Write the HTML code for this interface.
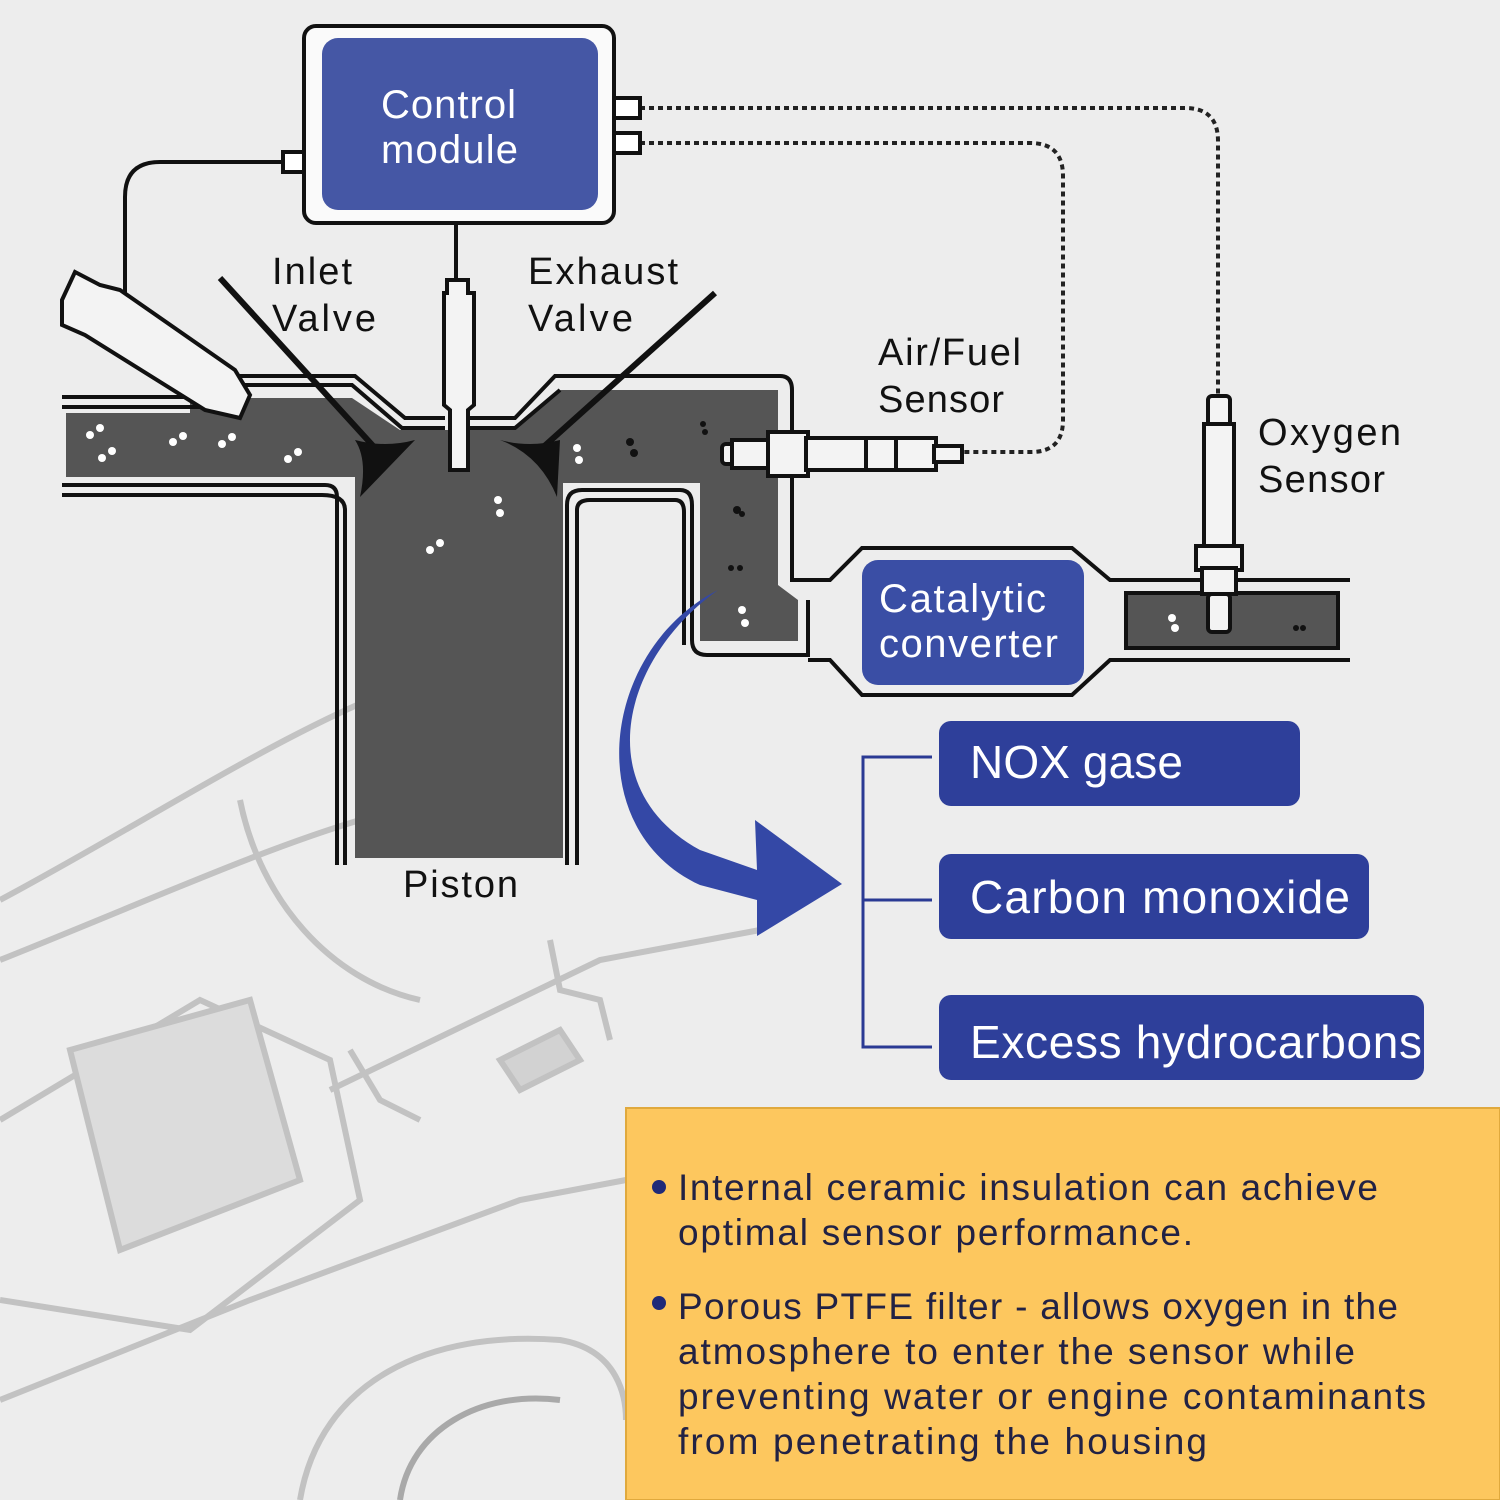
<!DOCTYPE html>
<html><head><meta charset="utf-8"><style>
html,body{margin:0;padding:0;background:#ededed;}
svg{display:block;}
text{font-family:"Liberation Sans","DejaVu Sans",sans-serif;}
</style></head><body>
<svg width="1500" height="1500" viewBox="0 0 1500 1500" xmlns="http://www.w3.org/2000/svg">
<rect width="1500" height="1500" fill="#ededed"/>
<!-- faded car sketch -->
<g fill="none" stroke="#b8b8b8" stroke-width="6" opacity="0.8">
<path d="M0 900 C150 820 300 720 420 680"/>
<path d="M0 960 C150 900 260 850 360 820"/>
<path d="M240 800 C260 900 330 980 420 1000"/>
<path d="M0 1120 L200 1000 L330 1060 L360 1200 L190 1330 L0 1300"/>
<path d="M70 1050 L250 1000 L300 1180 L120 1250 Z" fill="#d8d8d8"/>
<path d="M0 1400 L250 1300 L520 1200 L626 1180"/>
<path d="M300 1500 C320 1380 430 1330 560 1340 C620 1350 626 1400 626 1420"/>
<path d="M400 1500 C410 1430 480 1390 560 1400" stroke="#999"/>
<path d="M330 1090 L600 960 L760 930"/>
<path d="M500 1060 L560 1030 L580 1060 L520 1090 Z" fill="#ccc"/>
<path d="M550 940 L560 990 L600 1000 L610 1040"/>
<path d="M350 1050 L380 1100 L420 1120"/>
</g>
<!-- wires -->
<path d="M283 162 L160 162 Q125 162 125 197 L125 295" fill="none" stroke="#111" stroke-width="4"/>
<line x1="456" y1="223" x2="456" y2="280" stroke="#111" stroke-width="4"/>
<path d="M640 108 L1185 108 Q1218 108 1218 141 L1218 395" fill="none" stroke="#222" stroke-width="4" stroke-dasharray="5 4"/>
<path d="M640 143 L1030 143 Q1063 143 1063 176 L1063 420 Q1063 452 1031 452 L962 452" fill="none" stroke="#222" stroke-width="4" stroke-dasharray="5 4"/>
<!-- control module -->
<rect x="283" y="152" width="22" height="20" fill="#fff" stroke="#111" stroke-width="4"/>
<rect x="612" y="98" width="28" height="20" fill="#fff" stroke="#111" stroke-width="4"/>
<rect x="612" y="133" width="28" height="20" fill="#fff" stroke="#111" stroke-width="4"/>
<rect x="304" y="26" width="310" height="197" rx="12" fill="#fafafa" stroke="#111" stroke-width="4"/>
<rect x="322" y="38" width="276" height="172" rx="16" fill="#4557a5"/>
<text x="381" y="118" fill="#fff" font-size="40" textLength="135">Control</text>
<text x="381" y="163" fill="#fff" font-size="40" textLength="137">module</text>
<!-- engine dark fill -->
<path d="M66 413 L190 413 L190 398 L352 398 L400 430 L515 430 L560 390 L778 390 L778 585 L798 600 L798 641 L700 641 L700 483 L563 483 L563 858 L355 858 L355 477 L66 477 Z" fill="#555"/>
<!-- walls -->
<g fill="none" stroke="#111" stroke-width="4">
<path d="M62 397 L230 397"/><path d="M62 407 L230 407"/>
<path d="M225 376 L355 376 L405 418 L445 418"/><path d="M225 385 L352 385 L402 428 L445 428"/>
<path d="M470 418 L515 418 L555 376 L780 376 Q792 376 792 390 L792 580 L830 580 L862 548 L1072 548 L1110 580 L1350 580"/>
<path d="M470 428 L515 428 L560 390"/>
<path d="M62 485 L325 485 Q337 485 337 497 L337 865"/>
<path d="M62 495 L322 495 Q345 495 345 510 L345 865"/>
<path d="M567 865 L567 505 Q567 490 582 490 L680 490 Q692 490 692 505 L692 640 Q692 655 707 655 L808 655 L808 600"/>
<path d="M577 865 L577 510 Q577 500 590 500 L675 500 Q684 500 684 512 L684 645"/>
<path d="M808 660 L830 660 L862 695 L1072 695 L1110 660 L1350 660"/>
</g>
<rect x="1126" y="593" width="212" height="55" fill="#555" stroke="#111" stroke-width="4"/>
<!-- valves -->
<path d="M220 278 L375 448" stroke="#111" stroke-width="6"/>
<path d="M355 440 Q385 448 415 440 L360 497 Q368 460 355 440 Z" fill="#111"/>
<path d="M715 293 L540 450" stroke="#111" stroke-width="6"/>
<path d="M500 440 Q530 448 560 440 L557 497 Q540 455 500 440 Z" fill="#111"/>
<!-- spark plug -->
<path d="M447 280 L468 280 L468 293 L474 293 L474 405 L468 410 L468 470 L450 470 L450 410 L444 405 L444 293 L447 293 Z" fill="#f3f3f3" stroke="#111" stroke-width="4"/>
<!-- injector -->
<path d="M62 300 L75 272 L100 285 L120 290 L235 370 L250 395 L240 418 L205 410 L85 335 L62 325 Z" fill="#f3f3f3" stroke="#111" stroke-width="4"/>
<!-- air/fuel sensor -->
<g fill="#f3f3f3" stroke="#111" stroke-width="4">
<rect x="722" y="444" width="12" height="20" rx="4"/>
<rect x="732" y="440" width="38" height="28"/>
<rect x="768" y="432" width="40" height="44"/>
<rect x="806" y="438" width="130" height="32"/>
<rect x="866" y="438" width="30" height="32"/>
<rect x="934" y="446" width="28" height="16"/>
</g>
<!-- oxygen sensor -->
<g fill="#f3f3f3" stroke="#111" stroke-width="4">
<rect x="1208" y="396" width="22" height="30" rx="4"/>
<rect x="1204" y="424" width="30" height="124"/>
<rect x="1196" y="546" width="46" height="24"/>
<rect x="1202" y="568" width="34" height="26"/>
<rect x="1208" y="594" width="22" height="38" rx="4"/>
</g>
<!-- particles -->
<g fill="#fff">
<circle cx="90" cy="435" r="4"/><circle cx="100" cy="428" r="4"/><circle cx="102" cy="458" r="4"/><circle cx="112" cy="451" r="4"/>
<circle cx="173" cy="442" r="4"/><circle cx="183" cy="436" r="4"/><circle cx="222" cy="444" r="4"/><circle cx="232" cy="437" r="4"/>
<circle cx="288" cy="459" r="4"/><circle cx="298" cy="452" r="4"/><circle cx="577" cy="448" r="4"/><circle cx="579" cy="460" r="4"/>
<circle cx="498" cy="500" r="4"/><circle cx="500" cy="513" r="4"/><circle cx="430" cy="550" r="4"/><circle cx="440" cy="543" r="4"/>
<circle cx="742" cy="610" r="4"/><circle cx="745" cy="623" r="4"/><circle cx="1172" cy="618" r="4"/><circle cx="1175" cy="628" r="4"/>
</g>
<g fill="#111"><circle cx="630" cy="442" r="4"/><circle cx="634" cy="453" r="4"/><circle cx="703" cy="424" r="3"/><circle cx="705" cy="432" r="3"/><circle cx="737" cy="510" r="4"/><circle cx="742" cy="514" r="3"/><circle cx="731" cy="568" r="3"/><circle cx="740" cy="568" r="3"/><circle cx="1296" cy="628" r="3"/><circle cx="1303" cy="628" r="3"/></g>
<!-- labels -->
<g fill="#111" font-size="38">
<text x="272" y="284" textLength="80">Inlet</text><text x="272" y="331" textLength="104">Valve</text>
<text x="528" y="284" textLength="150">Exhaust</text><text x="528" y="331" textLength="105">Valve</text>
<text x="878" y="365" textLength="143">Air/Fuel</text><text x="878" y="412" textLength="126">Sensor</text>
<text x="1258" y="445" textLength="143">Oxygen</text><text x="1258" y="492" textLength="127">Sensor</text>
<text x="403" y="897" textLength="115">Piston</text>
</g>
<!-- catalytic -->
<rect x="862" y="560" width="222" height="125" rx="16" fill="#3a4ea5"/>
<text x="879" y="612" fill="#fff" font-size="40" textLength="167">Catalytic</text>
<text x="879" y="657" fill="#fff" font-size="40" textLength="179">converter</text>
<!-- blue arrow -->
<path d="M718 590 C620 660 590 790 700 850 L757 870 L755 820 L842 884 L757 936 L757 900 L700 885 C580 830 600 650 718 590 Z" fill="#3448a6"/>
<!-- bracket -->
<path d="M932 757 L863 757 L863 1047 L932 1047 M863 900 L932 900" fill="none" stroke="#2a3a94" stroke-width="3"/>
<rect x="939" y="721" width="361" height="85" rx="12" fill="#2e3f9a"/>
<text x="970" y="778" fill="#fff" font-size="46" textLength="213">NOX gase</text>
<rect x="939" y="854" width="430" height="85" rx="12" fill="#2e3f9a"/>
<text x="970" y="913" fill="#fff" font-size="46" textLength="380">Carbon monoxide</text>
<rect x="939" y="995" width="485" height="85" rx="12" fill="#2e3f9a"/>
<text x="970" y="1058" fill="#fff" font-size="46" textLength="452">Excess hydrocarbons</text>
<!-- yellow box -->
<rect x="626" y="1108" width="874" height="392" fill="#fdc75e" stroke="#e0a93d" stroke-width="2"/>
<g fill="#1f2a78"><circle cx="659" cy="1187" r="7"/><circle cx="659" cy="1303" r="7"/></g>
<g fill="#222244" font-size="37">
<text x="678" y="1200" textLength="700">Internal ceramic insulation can achieve</text>
<text x="678" y="1245" textLength="515">optimal sensor performance.</text>
<text x="678" y="1319" textLength="720">Porous PTFE filter - allows oxygen in the</text>
<text x="678" y="1364" textLength="677">atmosphere to enter the sensor while</text>
<text x="678" y="1409" textLength="748">preventing water or engine contaminants</text>
<text x="678" y="1454" textLength="529">from penetrating the housing</text>
</g>
</svg>
</body></html>
